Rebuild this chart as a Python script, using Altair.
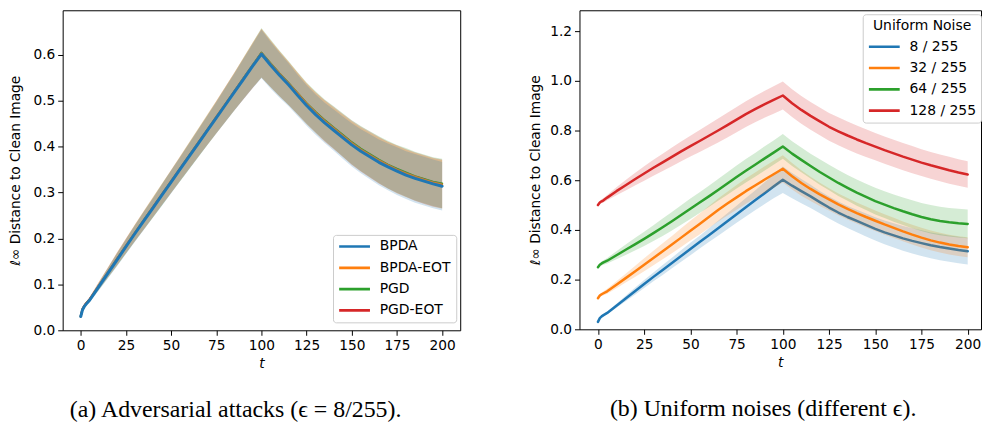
import altair as alt
import pandas as pd

# ---------------- data ----------------
T = [0, 1, 2, 3, 5, 10, 15, 20, 25, 30, 35, 40, 45, 50, 55, 60, 65, 70, 75, 80, 85, 90, 95, 100,
     105, 110, 115, 120, 125, 130, 135, 140, 145, 150, 155, 160, 165, 170, 175, 180, 185, 190, 195, 200]

BPDA = [0.030, 0.045, 0.052, 0.057, 0.066, 0.095, 0.124, 0.153, 0.182, 0.211, 0.239, 0.267, 0.295, 0.323,
        0.351, 0.379, 0.407, 0.435, 0.463, 0.491, 0.519, 0.547, 0.575, 0.602,
        0.578, 0.556, 0.535, 0.512, 0.490, 0.470, 0.452, 0.436, 0.420, 0.404, 0.390, 0.378, 0.366, 0.356,
        0.347, 0.338, 0.331, 0.325, 0.319, 0.314]
BPDA_SD = [0.002, 0.003, 0.004, 0.004, 0.005, 0.008, 0.011, 0.014, 0.016, 0.018, 0.020, 0.021, 0.023, 0.025,
           0.026, 0.028, 0.030, 0.032, 0.034, 0.037, 0.040, 0.044, 0.048, 0.053,
           0.051, 0.049, 0.047, 0.045, 0.044, 0.044, 0.044, 0.045, 0.046, 0.047, 0.048, 0.049, 0.050, 0.051,
           0.052, 0.052, 0.053, 0.053, 0.053, 0.053]

BPDA_EOT = [0.030, 0.046, 0.053, 0.058, 0.067, 0.097, 0.126, 0.155, 0.184, 0.213, 0.241, 0.269, 0.297, 0.325,
            0.353, 0.381, 0.409, 0.437, 0.465, 0.493, 0.521, 0.549, 0.577, 0.604,
            0.581, 0.559, 0.538, 0.516, 0.494, 0.474, 0.456, 0.440, 0.424, 0.408, 0.394, 0.382, 0.370, 0.360,
            0.350, 0.342, 0.335, 0.328, 0.322, 0.318]
BPDA_EOT_SD = [0.002, 0.003, 0.004, 0.004, 0.005, 0.008, 0.011, 0.014, 0.016, 0.018, 0.020, 0.022, 0.023, 0.025,
               0.027, 0.029, 0.031, 0.033, 0.035, 0.038, 0.041, 0.045, 0.049, 0.053,
               0.051, 0.049, 0.047, 0.046, 0.045, 0.044, 0.045, 0.045, 0.046, 0.047, 0.048, 0.049, 0.050, 0.051,
               0.052, 0.052, 0.052, 0.053, 0.053, 0.053]

PGD = [0.031, 0.046, 0.053, 0.058, 0.067, 0.096, 0.125, 0.154, 0.183, 0.212, 0.240, 0.268, 0.296, 0.324,
       0.352, 0.380, 0.408, 0.436, 0.464, 0.492, 0.520, 0.549, 0.577, 0.605,
       0.582, 0.560, 0.539, 0.517, 0.495, 0.476, 0.458, 0.442, 0.426, 0.410, 0.396, 0.384, 0.372, 0.361,
       0.352, 0.344, 0.336, 0.330, 0.324, 0.320]
PGD_SD = [0.002, 0.003, 0.004, 0.004, 0.005, 0.008, 0.011, 0.014, 0.016, 0.018, 0.020, 0.022, 0.024, 0.025,
          0.027, 0.029, 0.031, 0.033, 0.035, 0.038, 0.041, 0.045, 0.049, 0.054,
          0.052, 0.050, 0.048, 0.046, 0.045, 0.045, 0.045, 0.046, 0.047, 0.048, 0.049, 0.050, 0.051, 0.052,
          0.052, 0.053, 0.053, 0.053, 0.053, 0.054]

PGD_EOT = [0.031, 0.047, 0.054, 0.059, 0.068, 0.097, 0.126, 0.155, 0.184, 0.212, 0.240, 0.268, 0.296, 0.324,
           0.352, 0.380, 0.408, 0.436, 0.464, 0.492, 0.520, 0.548, 0.576, 0.604,
           0.581, 0.559, 0.538, 0.516, 0.494, 0.475, 0.457, 0.441, 0.425, 0.409, 0.395, 0.383, 0.371, 0.360,
           0.351, 0.343, 0.335, 0.329, 0.323, 0.319]
PGD_EOT_SD = [0.002, 0.003, 0.004, 0.004, 0.005, 0.008, 0.011, 0.014, 0.016, 0.018, 0.020, 0.021, 0.023, 0.025,
              0.026, 0.028, 0.030, 0.032, 0.035, 0.038, 0.041, 0.045, 0.049, 0.053,
              0.051, 0.049, 0.047, 0.045, 0.044, 0.044, 0.045, 0.046, 0.047, 0.048, 0.049, 0.050, 0.051, 0.051,
              0.052, 0.052, 0.053, 0.053, 0.053, 0.053]

U8 = BPDA
U8_SD = BPDA_SD

U32 = [0.125, 0.136, 0.141, 0.145, 0.153, 0.179, 0.206, 0.233, 0.260, 0.287, 0.314, 0.341, 0.369, 0.397,
       0.424, 0.452, 0.480, 0.506, 0.531, 0.556, 0.579, 0.602, 0.624, 0.646,
       0.616, 0.589, 0.565, 0.543, 0.523, 0.503, 0.485, 0.468, 0.452, 0.437, 0.422, 0.408, 0.394, 0.381,
       0.369, 0.358, 0.349, 0.341, 0.335, 0.330]
U32_SD = [0.004, 0.006, 0.007, 0.008, 0.010, 0.014, 0.018, 0.022, 0.026, 0.029, 0.032, 0.035, 0.038, 0.040,
          0.042, 0.044, 0.046, 0.048, 0.050, 0.051, 0.052, 0.053, 0.054, 0.055,
          0.053, 0.051, 0.049, 0.047, 0.045, 0.044, 0.043, 0.042, 0.042, 0.041, 0.041, 0.041, 0.040, 0.040,
          0.040, 0.040, 0.040, 0.040, 0.040, 0.040]

U64 = [0.250, 0.260, 0.265, 0.269, 0.276, 0.298, 0.320, 0.342, 0.364, 0.387, 0.411, 0.435, 0.460, 0.485,
       0.510, 0.535, 0.561, 0.587, 0.613, 0.638, 0.662, 0.687, 0.711, 0.736,
       0.707, 0.682, 0.657, 0.633, 0.611, 0.589, 0.569, 0.550, 0.533, 0.516, 0.502, 0.488, 0.475, 0.463,
       0.452, 0.443, 0.436, 0.431, 0.427, 0.424]
U64_SD = [0.005, 0.007, 0.008, 0.009, 0.011, 0.016, 0.021, 0.025, 0.029, 0.032, 0.035, 0.037, 0.039, 0.041,
          0.042, 0.043, 0.044, 0.045, 0.046, 0.047, 0.048, 0.049, 0.049, 0.050,
          0.050, 0.050, 0.050, 0.051, 0.051, 0.052, 0.052, 0.053, 0.053, 0.054, 0.054, 0.055, 0.055, 0.056,
          0.056, 0.057, 0.057, 0.057, 0.058, 0.058]

U128 = [0.500, 0.510, 0.515, 0.519, 0.530, 0.556, 0.580, 0.604, 0.627, 0.650, 0.672, 0.694, 0.716, 0.737,
        0.758, 0.779, 0.800, 0.822, 0.844, 0.866, 0.886, 0.905, 0.923, 0.941,
        0.910, 0.883, 0.859, 0.837, 0.815, 0.797, 0.780, 0.764, 0.749, 0.735, 0.721, 0.708, 0.695, 0.683,
        0.671, 0.660, 0.650, 0.640, 0.631, 0.623]
U128_SD = [0.005, 0.007, 0.008, 0.009, 0.011, 0.016, 0.021, 0.025, 0.029, 0.032, 0.035, 0.038, 0.040, 0.042,
           0.044, 0.046, 0.048, 0.050, 0.051, 0.052, 0.053, 0.054, 0.055, 0.056,
           0.056, 0.056, 0.056, 0.056, 0.056, 0.056, 0.056, 0.056, 0.056, 0.055, 0.055, 0.055, 0.055, 0.055,
           0.054, 0.054, 0.054, 0.054, 0.053, 0.053]

LEFT_NAMES = ["BPDA", "BPDA-EOT", "PGD", "PGD-EOT"]
RIGHT_NAMES = ["8 / 255", "32 / 255", "64 / 255", "128 / 255"]
COLORS = ["#1f77b4", "#ff7f0e", "#2ca02c", "#d62728"]
X_TICKS = [0, 25, 50, 75, 100, 125, 150, 175, 200]
LEFT_Y_TICKS = [0.0, 0.1, 0.2, 0.3, 0.4, 0.5, 0.6]
RIGHT_Y_TICKS = [0.0, 0.2, 0.4, 0.6, 0.8, 1.0, 1.2]
Y_TITLE = "ℓ∞ Distance to Clean Image"
CAPTION_A = "(a) Adversarial attacks (ϵ = 8/255)."
CAPTION_B = "(b) Uniform noises (different ϵ)."


def frame(name, mean, sd):
    return pd.DataFrame({
        "series": name,
        "t": T,
        "mean": mean,
        "lo": [m - s for m, s in zip(mean, sd)],
        "hi": [m + s for m, s in zip(mean, sd)],
    })


LEFT = {
    "BPDA": frame("BPDA", BPDA, BPDA_SD),
    "BPDA-EOT": frame("BPDA-EOT", BPDA_EOT, BPDA_EOT_SD),
    "PGD": frame("PGD", PGD, PGD_SD),
    "PGD-EOT": frame("PGD-EOT", PGD_EOT, PGD_EOT_SD),
}
RIGHT = {
    "8 / 255": frame("8 / 255", U8, U8_SD),
    "32 / 255": frame("32 / 255", U32, U32_SD),
    "64 / 255": frame("64 / 255", U64, U64_SD),
    "128 / 255": frame("128 / 255", U128, U128_SD),
}

FONT = "DejaVu Sans"


def panel(frames, names, draw_order, widths, xdom, ydom, yticks, w, h, legend, ytitle_pad):
    x = alt.X("t:Q", scale=alt.Scale(domain=xdom, nice=False, zero=False),
              axis=alt.Axis(values=X_TICKS, title="t", titleFontStyle="italic", titlePadding=5))
    yscale = alt.Scale(domain=ydom, nice=False, zero=False)
    yaxis = alt.Axis(values=yticks, format=".1f", title=Y_TITLE, titlePadding=ytitle_pad)
    stroke = alt.Stroke("series:N", scale=alt.Scale(domain=names, range=COLORS), legend=legend)
    layers = []
    for name in draw_order:
        base = alt.Chart(frames[name])
        col = COLORS[names.index(name)]
        layers.append(base.mark_area(color=col, opacity=0.2, clip=True).encode(
            x=x, y=alt.Y("lo:Q", scale=yscale, axis=yaxis), y2="hi:Q"))
        layers.append(base.mark_line(strokeWidth=widths[name], strokeCap="round", strokeJoin="round",
                                     clip=True).encode(
            x=x, y=alt.Y("mean:Q", scale=yscale, axis=yaxis), stroke=stroke))
    return alt.layer(*layers).properties(width=w, height=h)


legend_common = dict(
    symbolType="stroke", symbolSize=961, symbolStrokeWidth=2.7, clipHeight=14,
    labelFont=FONT, labelFontSize=14, labelColor="black", labelOffset=8.3,
    strokeColor="#cccccc", fillColor="white", cornerRadius=3, padding=4.7, rowPadding=7.4,
)

left_legend = alt.Legend(orient="none", legendX=272, legendY=226, title=None, **legend_common)
right_legend = alt.Legend(orient="none", legendX=285, legendY=4, title="Uniform Noise",
                          titleFont=FONT, titleFontSize=14, titleFontWeight="normal",
                          titleColor="black", titleAnchor="middle", titlePadding=7, **legend_common)

left_panel = panel(LEFT, LEFT_NAMES, ["PGD-EOT", "PGD", "BPDA-EOT", "BPDA"],
                   {"BPDA": 3, "BPDA-EOT": 2, "PGD": 2, "PGD-EOT": 2},
                   [-10, 210], [0, 0.6974], LEFT_Y_TICKS, 400, 322, left_legend, 10)

right_panel = panel(RIGHT, RIGHT_NAMES, ["8 / 255", "32 / 255", "64 / 255", "128 / 255"],
                    {n: 2.5 for n in RIGHT_NAMES},
                    [-10, 207.2], [0, 1.284], RIGHT_Y_TICKS, 404, 321, right_legend, 7)

cap = dict(orient="bottom", anchor="middle", frame="bounds", font="Liberation Serif", fontSize=24,
           fontWeight="normal", color="black", offset=28)

left = left_panel.properties(title=alt.TitleParams(CAPTION_A, dx=1, **cap))
right = right_panel.properties(title=alt.TitleParams(CAPTION_B, dx=8, **cap))

chart = alt.hconcat(left, right, spacing=67).resolve_scale(
    stroke="independent"
).resolve_legend(
    stroke="independent"
).properties(
    padding={"left": 0, "top": 0, "right": 0, "bottom": 0}
).configure_view(
    stroke="black", strokeWidth=1
).configure_axis(
    labelFont=FONT, labelFontSize=13.8, labelColor="black", labelPadding=3,
    titleFont=FONT, titleFontSize=13.8, titleFontWeight="normal", titleColor="black",
    tickColor="black", tickSize=5, tickWidth=1, grid=False, domain=False,
)

chart.save("out.html", embed_options={"renderer": "svg", "actions": False})
